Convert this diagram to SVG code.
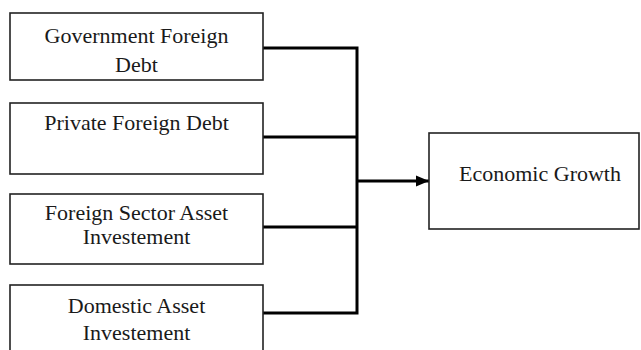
<svg xmlns="http://www.w3.org/2000/svg" width="641" height="350" viewBox="0 0 641 350">
<defs>
<style>
.box{fill:#fff;stroke:#222;stroke-width:1.6}
.t{font-family:"Liberation Serif","Times New Roman",serif;font-size:22px;fill:#1a1a1a;text-anchor:middle}
.c{fill:none;stroke:#000;stroke-width:3}
</style>
<marker id="ah" markerWidth="13" markerHeight="12" refX="13" refY="6" orient="auto" markerUnits="userSpaceOnUse">
<path d="M0,0.5 L13,6 L0,11.5 Z" fill="#000"/>
</marker>
</defs>
<rect width="641" height="350" fill="#fff"/>
<g id="connectors">
<path class="c" d="M263,48 H357 V313 H263"/>
<path class="c" d="M263,137 H357"/>
<path class="c" d="M263,227 H357"/>
<path class="c" d="M357,181 H429" marker-end="url(#ah)"/>
</g>
<g id="n1">
<rect class="box" x="10" y="13" width="253" height="67"/>
<text class="t" x="136.5" y="42.5">Government Foreign</text>
<text class="t" x="136.5" y="71.5">Debt</text>
</g>
<g id="n2">
<rect class="box" x="10" y="103" width="253" height="71"/>
<text class="t" x="136.5" y="130">Private Foreign Debt</text>
</g>
<g id="n3">
<rect class="box" x="10" y="194" width="253" height="70"/>
<text class="t" x="136.5" y="219.5">Foreign Sector Asset</text>
<text class="t" x="136.5" y="244">Investement</text>
</g>
<g id="n4">
<rect class="box" x="10" y="285" width="253" height="80"/>
<text class="t" x="136.5" y="313">Domestic Asset</text>
<text class="t" x="136.5" y="340">Investement</text>
</g>
<g id="n5">
<rect class="box" x="429" y="133" width="210" height="96"/>
<text class="t" x="540" y="181">Economic Growth</text>
</g>
</svg>
